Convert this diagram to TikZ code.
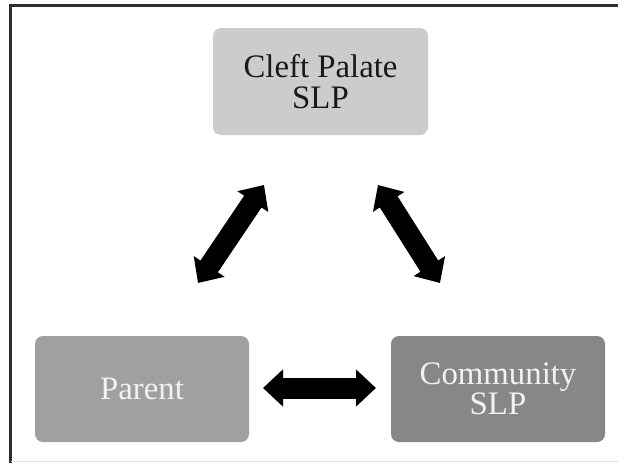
\documentclass[tikz,border=0pt]{standalone}
\usepackage{fontspec}
\setmainfont{Liberation Serif}
\usetikzlibrary{arrows.meta}
\definecolor{boxlight}{HTML}{CCCCCC}
\definecolor{boxmid}{HTML}{A0A0A0}
\definecolor{boxdark}{HTML}{878787}
\definecolor{framecol}{HTML}{2E2E2E}
\definecolor{lighttext}{HTML}{F2F2F2}
\begin{document}
\begin{tikzpicture}[x=1pt,y=-1pt,
  rolebox/.style={rectangle, rounded corners=8pt, draw=none, inner sep=0pt,
    minimum width=214pt, minimum height=106pt, align=center,
    font=\fontsize{32.8}{30.5}\selectfont},
  dblarrow/.style={line width=21pt, draw=black,
    {Triangle[length=20pt,width=36pt]}-{Triangle[length=20pt,width=36pt]}}]
  \useasboundingbox (0,0) rectangle (618,463);
  % outer frame (open on the right)
  \draw[framecol, line width=3pt] (10.7,463) -- (10.7,5) -- (618,5);
  \draw[gray!25, line width=0.8pt] (10.7,461.8) -- (618,461.8);
  % the three roles
  \node[rolebox, fill=boxlight, text=black!90, minimum width=215pt, minimum height=107pt]
    (cleft) at (320.5,81.5) {Cleft Palate\\SLP};
  \node[rolebox, fill=boxmid, text=lighttext] (parent) at (142,389) {Parent};
  \node[rolebox, fill=boxdark, text=lighttext] (community) at (498,389) {Community\\SLP};
  % ends of the two-way arrows
  \coordinate (clA) at (264,185);
  \coordinate (paA) at (198,283);
  \coordinate (clB) at (378,185);
  \coordinate (coB) at (440,283);
  \coordinate (paC) at (263,388);
  \coordinate (coC) at (376,388);
  \draw[dblarrow] (paA) -- (clA);
  \draw[dblarrow] (clB) -- (coB);
  \draw[dblarrow] (paC) -- (coC);
\end{tikzpicture}
\end{document}
